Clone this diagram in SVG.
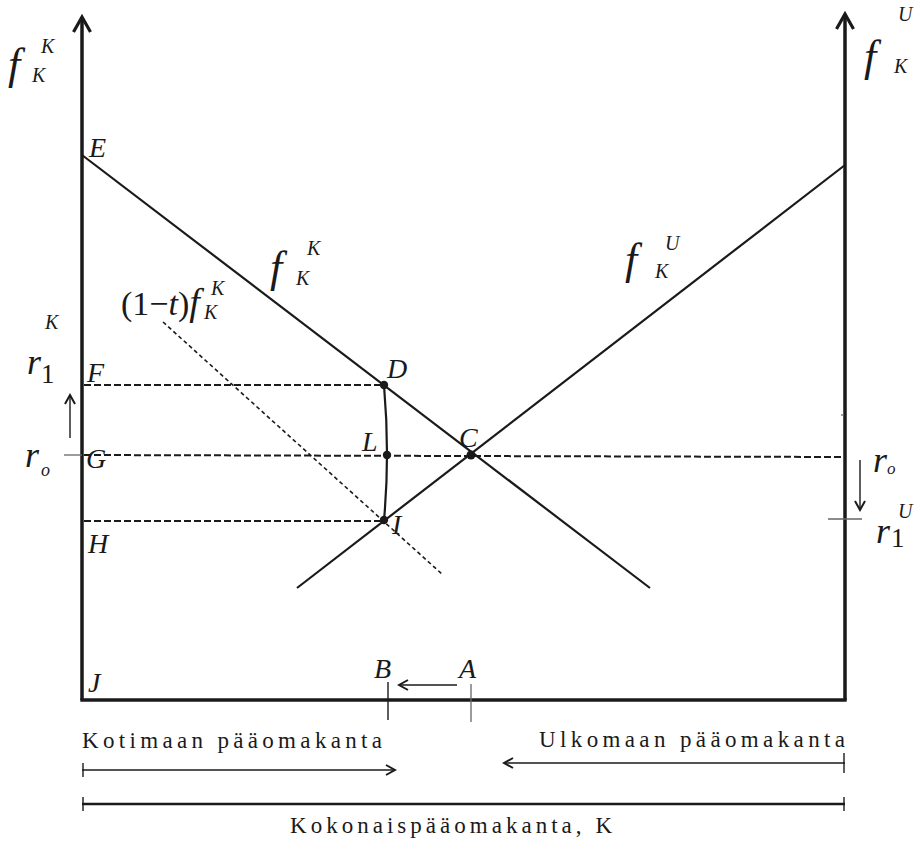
<svg xmlns="http://www.w3.org/2000/svg" width="915" height="846" viewBox="0 0 915 846">
<defs>
<style>
.ax{stroke:#1a1a1a;stroke-width:3.5;fill:none}
.ln{stroke:#1a1a1a;stroke-width:2.2;fill:none}
.th{stroke:#1a1a1a;stroke-width:1.4;fill:none}
.gr{stroke:#666;stroke-width:1.3;fill:none}
.ds{stroke:#1a1a1a;stroke-width:2;stroke-dasharray:7,3;fill:none}
.dt{stroke:#1a1a1a;stroke-width:1.6;stroke-dasharray:4,3;fill:none}
.it{font-style:italic}
.big{font-size:44px}
.lab{font-size:28px}
.sm{font-size:20px}
.txt{font-size:23px}
</style>
<marker id="ah" viewBox="0 0 12 12" refX="10" refY="6" markerWidth="12" markerHeight="12" markerUnits="userSpaceOnUse" orient="auto">
<path d="M1,1 L10,6 L1,11" fill="none" stroke="#1a1a1a" stroke-width="2"/>
</marker>
<marker id="ahb" viewBox="0 0 20 20" refX="17" refY="10" markerWidth="20" markerHeight="20" markerUnits="userSpaceOnUse" orient="auto">
<path d="M2,1.5 L17,10 L2,18.5" fill="none" stroke="#1a1a1a" stroke-width="3.2"/>
</marker>
</defs>
<rect width="915" height="846" fill="#fff"/>
<g id="axes">
<path class="ax" d="M82,700 L82,17" marker-end="url(#ahb)"/>
<path class="ax" d="M845,700 L845,14" marker-end="url(#ahb)"/>
<path class="ax" d="M80.3,700 L846.7,700"/>
</g>
<g id="connectors">
<path class="ln" d="M82,155 L650,588"/>
<path class="ln" d="M297,588 L845,165"/>
<path class="ds" d="M84,385 L384,385"/>
<path class="ds" d="M84,455 L842,457"/>
<path class="ds" d="M84,521 L384,521"/>
<path class="dt" d="M163,322 L443,575"/>
<path class="ln" d="M384,385 Q390,455 384,520"/>
<path class="gr" d="M64,455 L82,455"/>
<path class="gr" d="M828,519 L862,519"/>
<path class="gr" d="M841,415 L844,415"/>
<path class="th" d="M70,438 L70,395" marker-end="url(#ah)"/>
<path class="th" d="M860,460 L860,510" marker-end="url(#ah)"/>
<path class="th" d="M388,682 L388,720"/>
<path class="gr" d="M471,684 L471,722"/>
<path class="th" d="M457,685 L399,685" marker-end="url(#ah)"/>
<path class="th" d="M82,770 L395,770" marker-end="url(#ah)"/>
<path class="th" d="M83,763 L83,777"/>
<path class="th" d="M845,763 L504,763" marker-end="url(#ah)"/>
<path class="th" d="M844,753 L844,773"/>
<path class="ax" style="stroke-width:2.5" d="M82,804 L845,804"/>
<path class="th" d="M83,797 L83,811"/>
<path class="th" d="M844,797 L844,811"/>
</g>
<g id="points">
<circle cx="384" cy="385" r="4.2" fill="#1a1a1a"/>
<circle cx="387" cy="455" r="4.2" fill="#1a1a1a"/>
<circle cx="384" cy="520" r="4.2" fill="#1a1a1a"/>
<circle cx="471" cy="455" r="4.5" fill="#1a1a1a"/>
</g>
<g id="labels" font-family="'Liberation Serif', 'Times New Roman', 'DejaVu Serif', 'Noto Serif', Times, serif" fill="#1a1a1a">
<text class="it big" x="8" y="79">f</text>
<text class="it sm" x="32" y="82">K</text>
<text class="it sm" x="41" y="53">K</text>
<text class="it big" x="864" y="71">f</text>
<text class="it sm" x="894" y="73">K</text>
<text class="it sm" x="898" y="21">U</text>
<text class="it big" x="270" y="282">f</text>
<text class="it sm" x="296" y="285">K</text>
<text class="it sm" x="307" y="255">K</text>
<text class="it big" x="625" y="274">f</text>
<text class="it sm" x="655" y="278">K</text>
<text class="it sm" x="665" y="250">U</text>
<text style="font-size:34px" x="121" y="315">(1−<tspan class="it">t</tspan>)<tspan class="it" style="font-size:38px">f</tspan></text>
<text class="it sm" x="204" y="319">K</text>
<text class="it sm" x="211" y="295">K</text>
<text class="it lab" x="89" y="157">E</text>
<text class="it lab" x="87" y="382">F</text>
<text class="it lab" x="86" y="468">G</text>
<text class="it lab" x="88" y="553">H</text>
<text class="it lab" x="88" y="692">J</text>
<text class="it lab" x="387" y="378">D</text>
<text class="it lab" x="362" y="451">L</text>
<text class="it lab" x="459" y="447">C</text>
<text class="it lab" x="392" y="534">I</text>
<text class="it lab" x="374" y="678">B</text>
<text class="it lab" x="459" y="678">A</text>
<text class="it" style="font-size:36px" x="27" y="374">r</text>
<text style="font-size:27px" x="41" y="383">1</text>
<text class="it sm" x="45" y="329">K</text>
<text class="it" style="font-size:36px" x="25" y="467">r</text>
<text class="it" style="font-size:18px" x="41" y="476">o</text>
<text class="it" style="font-size:36px" x="873" y="472">r</text>
<text class="it" style="font-size:17px" x="887" y="474">o</text>
<text class="it" style="font-size:36px" x="876" y="543">r</text>
<text style="font-size:27px" x="891" y="547">1</text>
<text class="it sm" x="898" y="518">U</text>
<text class="txt" x="82" y="748" textLength="300" lengthAdjust="spacing">Kotimaan pääomakanta</text>
<text class="txt" x="539" y="747" textLength="306" lengthAdjust="spacing">Ulkomaan pääomakanta</text>
<text class="txt" x="290" y="833" textLength="322" lengthAdjust="spacing">Kokonaispääomakanta, K</text>
</g>
</svg>
